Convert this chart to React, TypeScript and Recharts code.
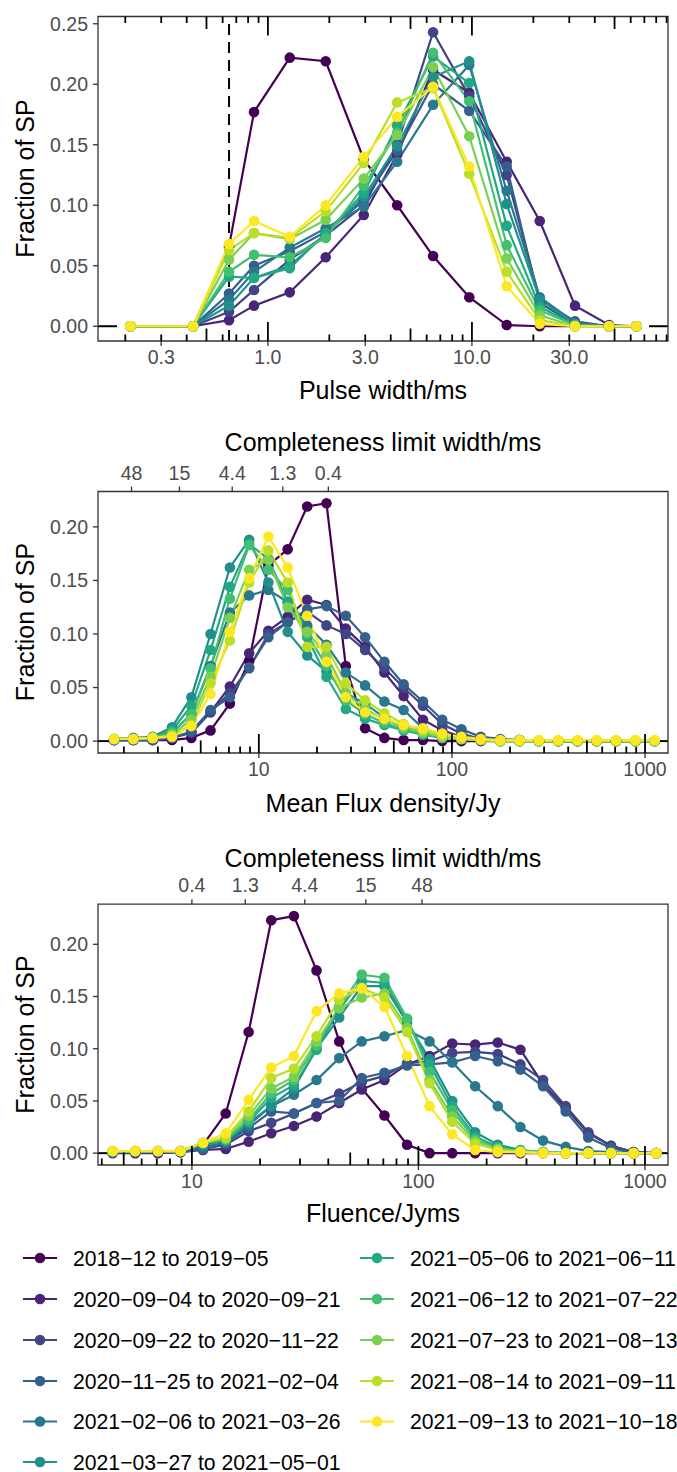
import React from 'react';
import { LineChart, Line, XAxis, YAxis, ReferenceLine, ReferenceArea } from 'recharts';

// viridis palette, one colour per observing period
const COLORS = ['#440154', '#482576', '#414487', '#35608D', '#2A788E', '#21908C', '#22A884', '#43BF71', '#7AD151', '#BBDF27', '#FDE725'];
const PERIODS = [
  '2018−12 to 2019−05',
  '2020−09−04 to 2020−09−21',
  '2020−09−22 to 2020−11−22',
  '2020−11−25 to 2021−02−04',
  '2021−02−06 to 2021−03−26',
  '2021−03−27 to 2021−05−01',
  '2021−05−06 to 2021−06−11',
  '2021−06−12 to 2021−07−22',
  '2021−07−23 to 2021−08−13',
  '2021−08−14 to 2021−09−11',
  '2021−09−13 to 2021−10−18',
];
const KEYS = PERIODS.map((_, i) => 's' + i);

// ---- pulse width distribution ----
const widthBins = [0.212, 0.43, 0.645, 0.855, 1.28, 1.92, 2.95, 4.3, 6.45, 9.7, 14.8, 21.5, 32, 47, 64];
const widthFractions = [
  [0, 0, 0.066, 0.177, 0.222, 0.219, 0.138, 0.100, 0.058, 0.024, 0.001, 0, 0, 0, 0],
  [0, 0, 0.005, 0.017, 0.028, 0.057, 0.092, 0.142, 0.212, 0.193, 0.136, 0.087, 0.017, 0.001, 0],
  [0, 0, 0.012, 0.030, 0.055, 0.075, 0.100, 0.150, 0.243, 0.190, 0.125, 0.022, 0.004, 0, 0],
  [0, 0, 0.027, 0.050, 0.062, 0.078, 0.104, 0.145, 0.200, 0.178, 0.132, 0.019, 0.002, 0, 0],
  [0, 0, 0.022, 0.045, 0.065, 0.081, 0.099, 0.136, 0.183, 0.216, 0.112, 0.024, 0.003, 0, 0],
  [0, 0, 0.017, 0.040, 0.050, 0.076, 0.107, 0.149, 0.206, 0.219, 0.101, 0.022, 0.002, 0, 0],
  [0, 0, 0.041, 0.040, 0.048, 0.077, 0.110, 0.166, 0.223, 0.201, 0.083, 0.016, 0.001, 0, 0],
  [0, 0, 0.045, 0.059, 0.057, 0.073, 0.116, 0.160, 0.226, 0.186, 0.067, 0.013, 0.001, 0, 0],
  [0, 0, 0.055, 0.077, 0.072, 0.088, 0.122, 0.158, 0.214, 0.157, 0.056, 0.009, 0, 0, 0],
  [0, 0, 0.063, 0.077, 0.073, 0.095, 0.135, 0.185, 0.197, 0.126, 0.045, 0.005, 0, 0, 0],
  [0, 0, 0.068, 0.087, 0.074, 0.100, 0.140, 0.173, 0.198, 0.132, 0.033, 0.002, 0, 0, 0],
];
const widthTicks = [0.3, 1, 3, 10, 30];
const widthLimit = 0.645;

// ---- mean flux density distribution ----
const fluxBins = [1.78, 2.24, 2.82, 3.55, 4.47, 5.62, 7.08, 8.91, 11.2, 14.1, 17.8, 22.4, 28.2, 35.5, 44.7, 56.2, 70.8, 89.1, 112, 141, 178, 224, 282, 355, 447, 562, 708, 891, 1122];
const fluxFractions = [
  [0.001, 0.001, 0.001, 0.001, 0.003, 0.010, 0.035, 0.075, 0.164, 0.179, 0.219, 0.222, 0.070, 0.012, 0.003, 0.001, 0.001, 0, 0, 0, 0, 0, 0, 0, 0, 0, 0, 0, 0],
  [0.001, 0.001, 0.001, 0.003, 0.008, 0.027, 0.051, 0.082, 0.103, 0.116, 0.132, 0.127, 0.105, 0.088, 0.064, 0.042, 0.020, 0.010, 0.004, 0.002, 0.001, 0.001, 0, 0, 0, 0, 0, 0, 0],
  [0.001, 0.001, 0.001, 0.003, 0.008, 0.027, 0.045, 0.068, 0.100, 0.111, 0.121, 0.108, 0.100, 0.085, 0.068, 0.050, 0.033, 0.016, 0.007, 0.002, 0.001, 0.001, 0, 0, 0, 0, 0, 0, 0],
  [0.001, 0.001, 0.001, 0.003, 0.009, 0.029, 0.041, 0.069, 0.097, 0.111, 0.123, 0.126, 0.117, 0.097, 0.074, 0.053, 0.037, 0.020, 0.011, 0.004, 0.002, 0.001, 0, 0, 0, 0, 0, 0, 0],
  [0.001, 0.002, 0.003, 0.008, 0.025, 0.070, 0.120, 0.136, 0.141, 0.130, 0.108, 0.090, 0.064, 0.052, 0.037, 0.029, 0.012, 0.006, 0.003, 0.002, 0.001, 0, 0, 0, 0, 0, 0, 0, 0],
  [0.002, 0.003, 0.004, 0.013, 0.041, 0.100, 0.162, 0.188, 0.148, 0.102, 0.080, 0.065, 0.045, 0.035, 0.022, 0.013, 0.008, 0.004, 0.002, 0.001, 0, 0, 0, 0, 0, 0, 0, 0, 0],
  [0.002, 0.002, 0.003, 0.010, 0.033, 0.085, 0.144, 0.184, 0.170, 0.130, 0.097, 0.060, 0.030, 0.021, 0.015, 0.010, 0.006, 0.003, 0.002, 0.001, 0, 0, 0, 0, 0, 0, 0, 0, 0],
  [0.002, 0.002, 0.003, 0.008, 0.025, 0.068, 0.133, 0.183, 0.160, 0.141, 0.100, 0.070, 0.038, 0.025, 0.017, 0.011, 0.007, 0.003, 0.002, 0.001, 0, 0, 0, 0, 0, 0, 0, 0, 0],
  [0.002, 0.002, 0.003, 0.006, 0.020, 0.060, 0.115, 0.160, 0.169, 0.125, 0.102, 0.080, 0.045, 0.030, 0.020, 0.013, 0.008, 0.004, 0.002, 0.001, 0, 0, 0, 0, 0, 0, 0, 0, 0],
  [0.002, 0.002, 0.003, 0.005, 0.015, 0.054, 0.094, 0.148, 0.178, 0.148, 0.088, 0.088, 0.054, 0.038, 0.026, 0.016, 0.010, 0.005, 0.002, 0.001, 0, 0, 0, 0, 0, 0, 0, 0, 0],
  [0.002, 0.002, 0.003, 0.004, 0.014, 0.044, 0.102, 0.152, 0.191, 0.162, 0.117, 0.074, 0.041, 0.027, 0.021, 0.015, 0.012, 0.007, 0.004, 0.002, 0.001, 0.001, 0.001, 0.001, 0.001, 0.001, 0.001, 0.001, 0.001],
];
const fluxTicks = [10, 100, 1000];
const fluxLimitAt = [2.19, 3.88, 7.28, 13.3, 22.9];
const fluxLimitLabels = ['48', '15', '4.4', '1.3', '0.4'];

// ---- fluence distribution ----
const fluenceBins = [4.47, 5.62, 7.08, 8.91, 11.2, 14.1, 17.8, 22.4, 28.2, 35.5, 44.7, 56.2, 70.8, 89.1, 112, 141, 178, 224, 282, 355, 447, 562, 708, 891, 1122];
const fluenceFractions = [
  [0, 0, 0, 0.001, 0.008, 0.038, 0.116, 0.223, 0.227, 0.175, 0.107, 0.062, 0.036, 0.008, 0, 0, 0, 0, 0, 0, 0, 0, 0, 0, 0],
  [0.001, 0.001, 0.001, 0.001, 0.003, 0.004, 0.011, 0.019, 0.026, 0.035, 0.048, 0.061, 0.070, 0.085, 0.093, 0.105, 0.104, 0.106, 0.099, 0.066, 0.043, 0.019, 0.007, 0.001, 0],
  [0.001, 0.001, 0.001, 0.001, 0.004, 0.008, 0.021, 0.029, 0.038, 0.048, 0.057, 0.068, 0.074, 0.086, 0.088, 0.096, 0.097, 0.095, 0.085, 0.070, 0.045, 0.020, 0.007, 0.001, 0],
  [0.001, 0.001, 0.001, 0.001, 0.004, 0.010, 0.024, 0.040, 0.038, 0.048, 0.050, 0.072, 0.077, 0.084, 0.085, 0.087, 0.093, 0.088, 0.080, 0.064, 0.040, 0.015, 0.005, 0, 0],
  [0.001, 0.001, 0.001, 0.002, 0.006, 0.010, 0.027, 0.045, 0.056, 0.070, 0.091, 0.107, 0.112, 0.118, 0.107, 0.087, 0.064, 0.045, 0.025, 0.012, 0.006, 0.002, 0.001, 0, 0],
  [0.001, 0.002, 0.002, 0.002, 0.008, 0.012, 0.029, 0.045, 0.062, 0.100, 0.130, 0.160, 0.160, 0.125, 0.090, 0.050, 0.020, 0.008, 0.003, 0.001, 0, 0, 0, 0, 0],
  [0.001, 0.002, 0.002, 0.002, 0.009, 0.012, 0.030, 0.053, 0.065, 0.099, 0.138, 0.165, 0.163, 0.128, 0.085, 0.045, 0.016, 0.006, 0.002, 0.001, 0, 0, 0, 0, 0],
  [0.002, 0.002, 0.002, 0.002, 0.010, 0.013, 0.032, 0.057, 0.070, 0.103, 0.140, 0.171, 0.168, 0.129, 0.078, 0.041, 0.013, 0.005, 0.002, 0.001, 0, 0, 0, 0, 0],
  [0.002, 0.002, 0.002, 0.002, 0.010, 0.014, 0.036, 0.062, 0.073, 0.107, 0.139, 0.149, 0.153, 0.120, 0.070, 0.035, 0.011, 0.004, 0.002, 0.001, 0, 0, 0, 0, 0],
  [0.002, 0.002, 0.002, 0.002, 0.010, 0.015, 0.040, 0.072, 0.081, 0.112, 0.147, 0.158, 0.149, 0.116, 0.067, 0.030, 0.009, 0.003, 0.001, 0, 0, 0, 0, 0, 0],
  [0.002, 0.002, 0.002, 0.002, 0.010, 0.019, 0.051, 0.082, 0.093, 0.136, 0.153, 0.158, 0.140, 0.093, 0.045, 0.018, 0.003, 0.001, 0.001, 0, 0, 0, 0, 0, 0],
];
const fluenceTicks = [10, 100, 1000];
const fluenceLimitAt = [10, 17.2, 31.5, 58.6, 103.7];
const fluenceLimitLabels = ['0.4', '1.3', '4.4', '15', '48'];

const FONT = '"Liberation Sans", Arial, Helvetica, sans-serif';
const TICK_FONT = 19.5;
const TITLE_FONT = 25;
const LEGEND_FONT = 21.2;
const XAXIS_H = 69;
const TOPAXIS_H = 40;
const PLOT_W = 570;
const LONG_TICK = 19;

type PanelProps = {
  top: number;
  height: number;
  marginTop: number;
  bins: number[];
  series: number[][];
  xDomain: [number, number];
  yDomain: [number, number];
  xTicks: number[];
  xFormat: (v: number) => string;
  yTicks: number[];
  limitAt?: number[];
  limitLabels?: string[];
  logTicksTop?: boolean;
  dashedAt?: number;
};

// minor/major positions of the logarithmic tick marks inside the panel
function logTickMarks(domain: [number, number]) {
  const out: { v: number; len: number }[] = [];
  const k0 = Math.floor(Math.log10(domain[0]));
  const k1 = Math.ceil(Math.log10(domain[1]));
  for (let k = k0; k <= k1; k++) {
    for (let m = 1; m <= 9; m++) {
      const v = m * Math.pow(10, k);
      if (v >= domain[0] && v <= domain[1]) out.push({ v, len: m === 1 ? LONG_TICK : m === 5 ? 12.5 : 6.5 });
    }
  }
  return out;
}

// Shared axis set; `visible` switches ticks and labels on for the front layer only
function axes(p: PanelProps, visible: boolean) {
  const tickStyle = { fill: '#4D4D4D', fontSize: TICK_FONT, fontFamily: FONT };
  const tickLine = visible ? { stroke: '#333333', strokeWidth: 1.3 } : false;
  const tick = visible ? tickStyle : false;
  return [
    <XAxis
      key="xb"
      dataKey="x"
      type="number"
      scale="log"
      domain={p.xDomain}
      allowDataOverflow
      ticks={p.xTicks}
      interval={0}
      tickFormatter={p.xFormat}
      height={XAXIS_H}
      axisLine={false}
      tickLine={tickLine}
      tickSize={5}
      tickMargin={4}
      tick={tick}
    />,
    p.limitAt ? (
      <XAxis
        key="xt"
        xAxisId="top"
        orientation="top"
        dataKey="x"
        type="number"
        scale="log"
        domain={p.xDomain}
        allowDataOverflow
        ticks={p.limitAt}
        interval={0}
        tickFormatter={(v: number) => p.limitLabels![p.limitAt!.indexOf(v)]}
        height={TOPAXIS_H}
        axisLine={false}
        tickLine={tickLine}
        tickSize={5}
        tickMargin={7}
        tick={tick}
      />
    ) : null,
    <YAxis
      key="y"
      type="number"
      domain={p.yDomain}
      allowDataOverflow
      ticks={p.yTicks}
      interval={0}
      tickFormatter={(v: number) => v.toFixed(2)}
      width={98}
      axisLine={false}
      tickLine={tickLine}
      tickSize={5}
      tickMargin={5}
      tick={tick}
    />,
  ];
}

function Panel(p: PanelProps) {
  const data = p.bins.map((b, i) => {
    const row: Record<string, number> = { x: b };
    p.series.forEach((s, j) => {
      row[KEYS[j]] = s[i];
    });
    return row;
  });
  const topH = p.limitAt ? TOPAXIS_H : 0;
  const plotH = p.height - p.marginTop - topH - XAXIS_H;
  const yPerPx = (p.yDomain[1] - p.yDomain[0]) / plotH;
  const decadesPerPx = Math.log10(p.xDomain[1] / p.xDomain[0]) / PLOT_W;
  const edgeStep = Math.pow(10, LONG_TICK * decadesPerPx);
  const marks = logTickMarks(p.xDomain);
  const margin = { top: p.marginTop, right: 9, bottom: 0, left: 0 };
  const layer: React.CSSProperties = { position: 'absolute', left: 0, top: 0 };

  return (
    <div style={{ position: 'absolute', left: 0, top: p.top, width: 677, height: p.height }}>
      {/* back layer: zero-level side ticks and completeness cut, underneath the series */}
      <div style={layer}>
        <LineChart width={677} height={p.height} data={data} margin={margin}>
          {axes(p, false)}
          <ReferenceLine
            segment={[
              { x: p.xDomain[0], y: 0 },
              { x: p.xDomain[0] * edgeStep, y: 0 },
            ]}
            stroke="#000000"
            strokeWidth={2}
            ifOverflow="visible"
          />
          <ReferenceLine
            segment={[
              { x: p.xDomain[1] / edgeStep, y: 0 },
              { x: p.xDomain[1], y: 0 },
            ]}
            stroke="#000000"
            strokeWidth={2}
            ifOverflow="visible"
          />
          {p.dashedAt !== undefined && (
            <ReferenceLine x={p.dashedAt} stroke="#000000" strokeWidth={2} strokeDasharray="11 7" ifOverflow="visible" />
          )}
        </LineChart>
      </div>
      {/* front layer: series, log ticks, frame and axis labels */}
      <div style={layer}>
        <LineChart width={677} height={p.height} data={data} margin={margin}>
          {axes(p, true)}
          {KEYS.map((k, j) => (
            <Line
              key={'l' + k}
              dataKey={k}
              stroke={COLORS[j]}
              strokeWidth={2.2}
              dot={false}
              activeDot={false}
              isAnimationActive={false}
            />
          ))}
          {KEYS.map((k, j) => (
            <Line
              key={'d' + k}
              dataKey={k}
              stroke="none"
              dot={{ r: 5.3, fill: COLORS[j], stroke: 'none' }}
              activeDot={false}
              isAnimationActive={false}
            />
          ))}
          {marks.map((m) => (
            <ReferenceLine
              key={'b' + m.v}
              segment={[
                { x: m.v, y: p.yDomain[0] },
                { x: m.v, y: p.yDomain[0] + m.len * yPerPx },
              ]}
              stroke="#000000"
              strokeWidth={1.8}
              ifOverflow="visible"
            />
          ))}
          {p.logTicksTop &&
            marks.map((m) => (
              <ReferenceLine
                key={'t' + m.v}
                segment={[
                  { x: m.v, y: p.yDomain[1] },
                  { x: m.v, y: p.yDomain[1] - m.len * yPerPx },
                ]}
                stroke="#000000"
                strokeWidth={1.8}
                ifOverflow="visible"
              />
            ))}
          <ReferenceArea
            x1={p.xDomain[0]}
            x2={p.xDomain[1]}
            y1={p.yDomain[0]}
            y2={p.yDomain[1]}
            fill="none"
            stroke="#333333"
            strokeWidth={1.3}
            ifOverflow="visible"
          />
        </LineChart>
      </div>
    </div>
  );
}

const PLOT_CX = 383;

function Titles() {
  const yTitles = [178.5, 622, 1034.5];
  const rowsY = [1258, 1299, 1340, 1381, 1421.5, 1462];
  return (
    <svg width={677} height={1472} style={{ position: 'absolute', left: 0, top: 0, pointerEvents: 'none' }}>
      <g fontFamily={FONT} fontSize={TITLE_FONT} fill="#000000" textAnchor="middle">
        <text x={PLOT_CX} y={390} dominantBaseline="central">Pulse width/ms</text>
        <text x={PLOT_CX} y={442} dominantBaseline="central">Completeness limit width/ms</text>
        <text x={PLOT_CX} y={803} dominantBaseline="central">Mean Flux density/Jy</text>
        <text x={PLOT_CX} y={858} dominantBaseline="central">Completeness limit width/ms</text>
        <text x={PLOT_CX} y={1213} dominantBaseline="central">Fluence/Jyms</text>
        {yTitles.map((cy, i) => (
          <text key={i} x={25} y={cy} dominantBaseline="central" transform={`rotate(-90 25 ${cy})`}>
            Fraction of SP
          </text>
        ))}
      </g>
      <g fontFamily={FONT} fontSize={LEGEND_FONT} fill="#000000">
        {PERIODS.map((label, i) => {
          const col = i < 6 ? 0 : 1;
          const row = i < 6 ? i : i - 6;
          const x0 = col === 0 ? 23 : 360;
          const y = rowsY[row];
          return (
            <g key={label}>
              <line x1={x0} x2={x0 + 34} y1={y} y2={y} stroke={COLORS[i]} strokeWidth={2.2} />
              <circle cx={x0 + 17} cy={y} r={5.3} fill={COLORS[i]} />
              <text x={x0 + 50} y={y} dominantBaseline="central">{label}</text>
            </g>
          );
        })}
      </g>
    </svg>
  );
}

export default function App() {
  return (
    <div style={{ position: 'absolute', left: 0, top: 0, width: 677, height: 1472, background: '#ffffff', overflow: 'hidden' }}>
      <Panel
        top={0}
        height={410}
        marginTop={16.5}
        bins={widthBins}
        series={widthFractions}
        xDomain={[0.147, 91.4]}
        yDomain={[-0.0122, 0.256]}
        xTicks={widthTicks}
        xFormat={(v) => v.toFixed(1)}
        yTicks={[0, 0.05, 0.1, 0.15, 0.2, 0.25]}
        logTicksTop
        dashedAt={widthLimit}
      />
      <Panel
        top={450}
        height={372}
        marginTop={1.5}
        bins={fluxBins}
        series={fluxFractions}
        xDomain={[1.469, 1315]}
        yDomain={[-0.0111, 0.233]}
        xTicks={fluxTicks}
        xFormat={(v) => String(v)}
        yTicks={[0, 0.05, 0.1, 0.15, 0.2]}
        limitAt={fluxLimitAt}
        limitLabels={fluxLimitLabels}
      />
      <Panel
        top={862}
        height={372}
        marginTop={2.2}
        bins={fluenceBins}
        series={fluenceFractions}
        xDomain={[3.85, 1264]}
        yDomain={[-0.01135, 0.2384]}
        xTicks={fluenceTicks}
        xFormat={(v) => String(v)}
        yTicks={[0, 0.05, 0.1, 0.15, 0.2]}
        limitAt={fluenceLimitAt}
        limitLabels={fluenceLimitLabels}
      />
      <Titles />
    </div>
  );
}
